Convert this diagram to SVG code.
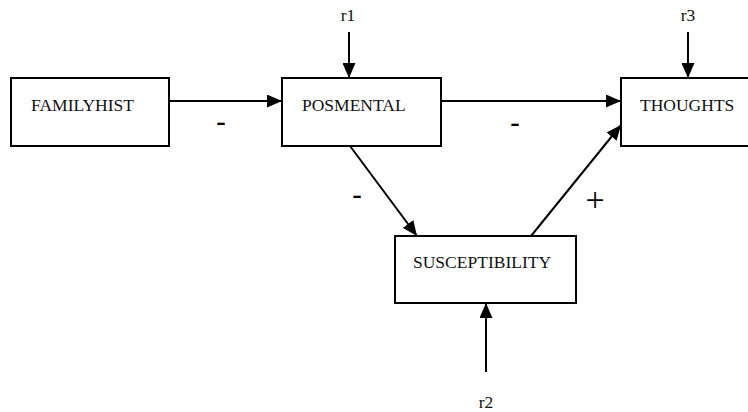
<svg xmlns="http://www.w3.org/2000/svg" width="748" height="412" viewBox="0 0 748 412">
<style>
.box{fill:#fff;stroke:#000;stroke-width:2}
.lbl{font-family:"Liberation Serif","Times New Roman",serif;font-size:17.5px;fill:#111}
.edge{stroke:#000;stroke-width:2;fill:none}
.sign{font-family:"Liberation Sans",Arial,sans-serif;font-size:30px;fill:#000;text-anchor:middle}
.plus{font-family:"Liberation Serif","Times New Roman",serif;font-size:34px;fill:#000;text-anchor:middle}
</style>
<defs>
<marker id="ah" viewBox="0 0 15 13" refX="15" refY="6.5" markerWidth="15" markerHeight="13" markerUnits="userSpaceOnUse" orient="auto">
<path d="M0,0 L15,6.5 L0,13 Z" fill="#000"/>
</marker>
</defs>
<rect width="748" height="412" fill="#fff"/>
<g id="connectors">
<line class="edge" x1="169" y1="101" x2="282" y2="101" marker-end="url(#ah)"/>
<line class="edge" x1="441" y1="101" x2="621" y2="101" marker-end="url(#ah)"/>
<line class="edge" x1="349" y1="32" x2="349" y2="78" marker-end="url(#ah)"/>
<line class="edge" x1="688" y1="32" x2="688" y2="78" marker-end="url(#ah)"/>
<line class="edge" x1="350" y1="146" x2="417" y2="236" marker-end="url(#ah)"/>
<line class="edge" x1="531" y1="236" x2="621" y2="125" marker-end="url(#ah)"/>
<line class="edge" x1="486" y1="372" x2="486" y2="303" marker-end="url(#ah)"/>
<text class="sign" x="221" y="132">-</text>
<text class="sign" x="515" y="133">-</text>
<text class="sign" x="357" y="205">-</text>
<text class="plus" x="595" y="211">+</text>
</g>
<g id="r1"><text class="lbl" x="348" y="21" text-anchor="middle">r1</text></g>
<g id="r3"><text class="lbl" x="688" y="21" text-anchor="middle">r3</text></g>
<g id="r2"><text class="lbl" x="486" y="408" text-anchor="middle">r2</text></g>
<g id="familyhist">
<rect class="box" x="11" y="78" width="158" height="68"/>
<text class="lbl" x="31" y="111">FAMILYHIST</text>
</g>
<g id="posmental">
<rect class="box" x="282" y="78" width="159" height="68"/>
<text class="lbl" x="302" y="111">POSMENTAL</text>
</g>
<g id="thoughts">
<rect class="box" x="621" y="78" width="140" height="68"/>
<text class="lbl" x="640" y="111">THOUGHTS</text>
</g>
<g id="susceptibility">
<rect class="box" x="395" y="236" width="181" height="67"/>
<text class="lbl" x="413" y="268">SUSCEPTIBILITY</text>
</g>
</svg>
